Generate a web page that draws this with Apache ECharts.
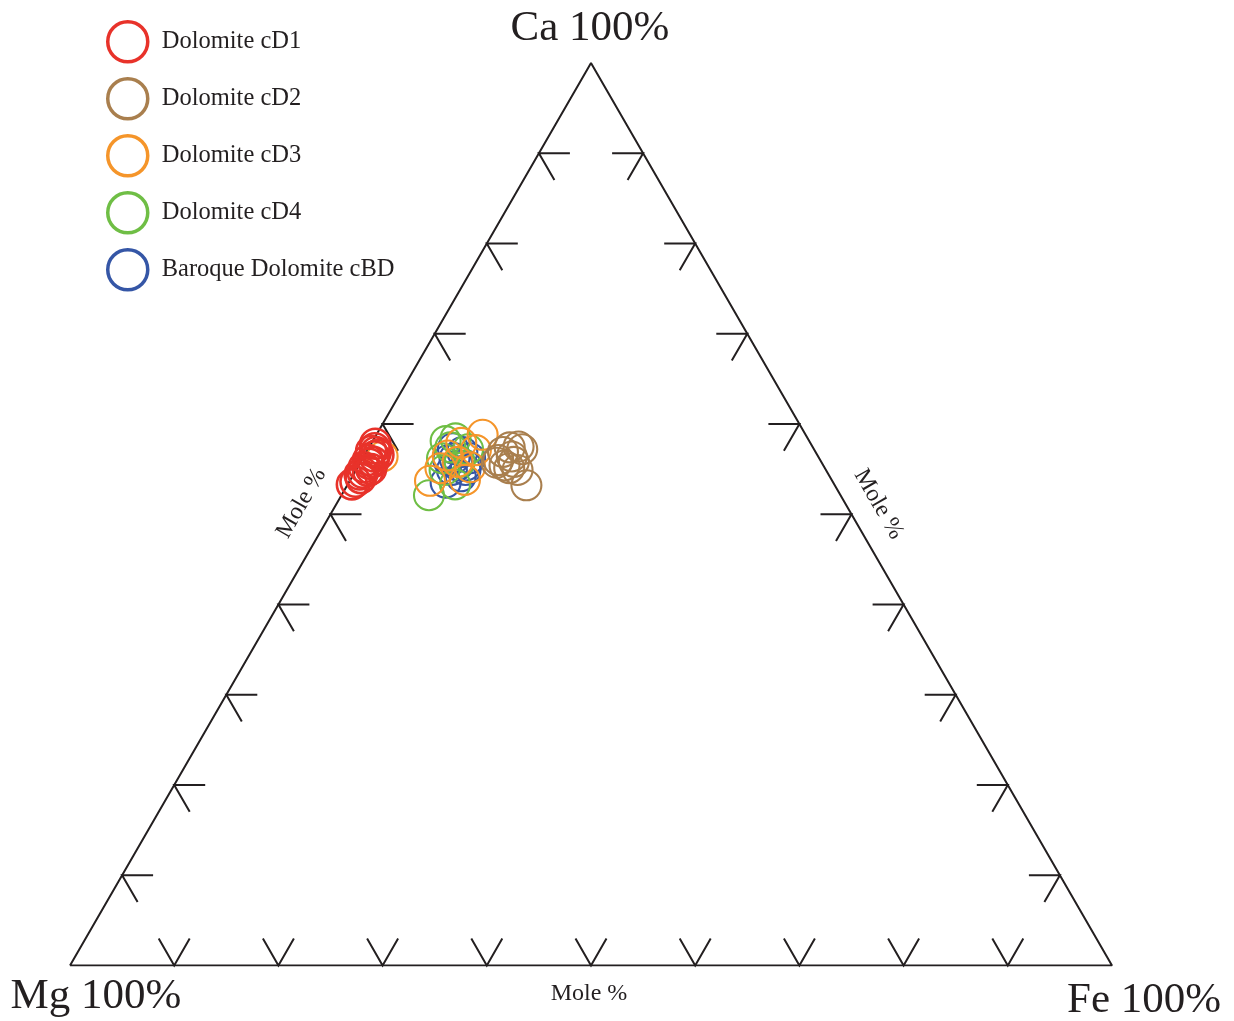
<!DOCTYPE html>
<html>
<head>
<meta charset="utf-8">
<script src="https://cdn.jsdelivr.net/npm/echarts@6/dist/echarts.min.js"></script>
<style>
  html, body { margin: 0; padding: 0; background: #ffffff; }
  #chart { width: 1234px; height: 1021px; }
</style>
</head>
<body>
<div id="chart"></div>
<script>
// Ternary Ca–Mg–Fe diagram of dolomite generations (mole %)
const apexLabels = ['Ca 100%', 'Mg 100%', 'Fe 100%'];
const edgeTitle = 'Mole %';
const tickValues = [10, 20, 30, 40, 50, 60, 70, 80, 90];
const seriesNames = ['Dolomite cD1', 'Dolomite cD2', 'Dolomite cD3', 'Dolomite cD4', 'Baroque Dolomite cBD'];
const seriesColors = ['#e8322a', '#a97f4e', '#f5952a', '#6fbe45', '#3556a6'];

// Each analysis: [Ca, Mg, Fe] in mole %
const cD1 = [
  [57.8, 41.8, 0.4], [57.3, 42.1, 0.6], [56.9, 42.2, 0.9], [56.4, 42.6, 1.0],
  [56.0, 43.4, 0.6], [55.6, 43.5, 0.9], [55.2, 44.2, 0.6], [54.8, 44.0, 1.2],
  [54.4, 45.0, 0.6], [54.0, 45.1, 0.9], [53.6, 45.8, 0.6], [56.6, 42.1, 1.3],
  [55.0, 43.6, 1.4], [53.3, 46.3, 0.4], [55.8, 43.0, 1.2], [54.6, 44.6, 0.8],
  [57.0, 42.6, 0.4]
];
const cD2 = [
  [56.0, 30.9, 13.1], [56.9, 30.0, 13.1], [57.4, 29.1, 13.5], [57.5, 28.2, 14.3],
  [57.2, 28.0, 14.8], [56.4, 29.4, 14.2], [55.4, 30.6, 14.0], [55.8, 29.5, 14.7],
  [54.9, 29.6, 15.5], [55.1, 30.3, 14.6], [53.2, 29.6, 17.2], [55.7, 31.2, 13.1]
];
const cD3 = [
  [58.8, 31.0, 10.2], [57.9, 33.5, 8.6], [53.7, 38.6, 7.7], [55.2, 34.0, 10.8],
  [55.8, 34.9, 9.3], [56.5, 35.5, 8.0], [57.1, 32.5, 10.4], [55.1, 36.9, 8.0],
  [53.8, 35.2, 11.0], [56.4, 41.8, 1.8]
];
const cD4 = [
  [58.1, 34.9, 7.0], [57.4, 34.8, 7.8], [56.2, 36.2, 7.6], [52.1, 39.5, 8.4],
  [53.3, 36.4, 10.3], [57.2, 33.2, 9.6], [54.9, 36.6, 8.5], [55.8, 34.7, 9.5],
  [58.4, 33.8, 7.8]
];
const cBD = [
  [53.5, 37.2, 9.3], [54.2, 35.4, 10.4], [54.9, 35.9, 9.2], [55.4, 34.3, 10.3],
  [56.2, 35.0, 8.8], [56.9, 33.9, 9.2], [56.0, 35.7, 8.3], [56.2, 33.5, 10.3],
  [55.4, 35.1, 9.5], [57.3, 34.6, 8.1], [54.9, 34.6, 10.5]
];
const seriesData = [cD1, cD2, cD3, cD4, cBD];
// drawing order, bottom to top
const drawOrder = [4, 3, 2, 1, 0];

const H = Math.sqrt(3) / 2;
// [Ca, Mg, Fe] -> cartesian, Mg corner at origin, Fe corner at (100, 0)
function toXY(t) {
  const s = t[0] + t[1] + t[2];
  const ca = t[0] / s * 100, fe = t[2] / s * 100;
  return [fe + ca / 2, ca * H];
}

const outline = [[0, 100, 0], [0, 0, 100], [100, 0, 0], [0, 100, 0]].map(toXY);

// tick anchors: side 0 = Mg–Ca edge, 1 = Ca–Fe edge, 2 = Mg–Fe edge
const tickData = [];
tickValues.forEach(v => {
  tickData.push(toXY([v, 100 - v, 0]).concat(0));
  tickData.push(toXY([v, 0, 100 - v]).concat(1));
  tickData.push(toXY([0, 100 - v, v]).concat(2));
});

const chart = echarts.init(document.getElementById('chart'), null, { renderer: 'canvas' });
const ink = '#231f20';
const serif = '"Liberation Serif", "Times New Roman", serif';

const series = [
  {
    type: 'line', data: outline, symbol: 'none', silent: true,
    lineStyle: { color: ink, width: 2 }, z: 1
  },
  {
    type: 'custom', data: tickData, silent: true, clip: false, z: 1,
    encode: { x: 0, y: 1 },
    renderItem(params, api) {
      const p = api.coord([api.value(0), api.value(1)]);
      const side = api.value(2);
      const L = 31, dx = L / 2, dy = L * H;
      let pts;
      if (side === 0) pts = [[p[0] + L, p[1]], p, [p[0] + dx, p[1] + dy]];
      else if (side === 1) pts = [[p[0] - L, p[1]], p, [p[0] - dx, p[1] + dy]];
      else pts = [[p[0] - dx, p[1] - dy], p, [p[0] + dx, p[1] - dy]];
      return { type: 'polyline', shape: { points: pts }, style: { stroke: ink, lineWidth: 2, fill: null } };
    }
  }
];
drawOrder.forEach((i, k) => {
  series.push({
    name: seriesNames[i], type: 'scatter', data: seriesData[i].map(toXY),
    symbol: 'circle', symbolSize: 30, z: 2 + k,
    itemStyle: {
      color: 'rgba(0,0,0,0)', opacity: 1,
      borderColor: seriesColors[i], borderWidth: i === 0 ? 2.6 : 2.1
    }
  });
});

chart.setOption({
  animation: false,
  backgroundColor: '#ffffff',
  grid: { left: 70, top: 63, width: 1042, height: 1042 * H },
  xAxis: { type: 'value', min: 0, max: 100, show: false },
  yAxis: { type: 'value', min: 0, max: 100 * H, show: false },
  legend: {
    orient: 'vertical', left: 106, top: 20, padding: 0,
    itemWidth: 40, itemHeight: 40, itemGap: 13.5,
    icon: 'circle',
    data: seriesNames.map((n, i) => ({
      name: n,
      itemStyle: { color: 'rgba(0,0,0,0)', opacity: 1, borderColor: seriesColors[i], borderWidth: 3.5 }
    })),
    textStyle: { fontFamily: serif, fontSize: 24.5, color: ink, padding: [0, 0, 0, 9] },
    selectedMode: false
  },
  series
});

// apex and edge titles placed from the plot's own corner coordinates
const px = t => chart.convertToPixel({ gridIndex: 0 }, toXY(t));
const ca = px([100, 0, 0]), mg = px([0, 100, 0]), fe = px([0, 0, 100]);
const midL = px([50, 50, 0]), midR = px([50, 0, 50]), midB = px([0, 50, 50]);
const txt = (text, x, y, size, rot) => ({
  type: 'text', x, y, rotation: rot || 0, silent: true,
  style: { text, font: size + 'px ' + serif, fill: ink, align: 'center', verticalAlign: 'middle' }
});
chart.setOption({
  graphic: [
    txt(apexLabels[0], ca[0] - 1, ca[1] - 34, 43),
    txt(apexLabels[1], mg[0] + 26, mg[1] + 31, 43),
    txt(apexLabels[2], fe[0] + 32, fe[1] + 35, 43),
    txt(edgeTitle, midB[0] - 2, midB[1] + 28, 24),
    txt(edgeTitle, midL[0] - 29, midL[1] - 11, 24, Math.PI / 3),
    txt(edgeTitle, midR[0] + 27, midR[1] - 10, 24, -Math.PI / 3)
  ]
});
</script>
</body>
</html>
